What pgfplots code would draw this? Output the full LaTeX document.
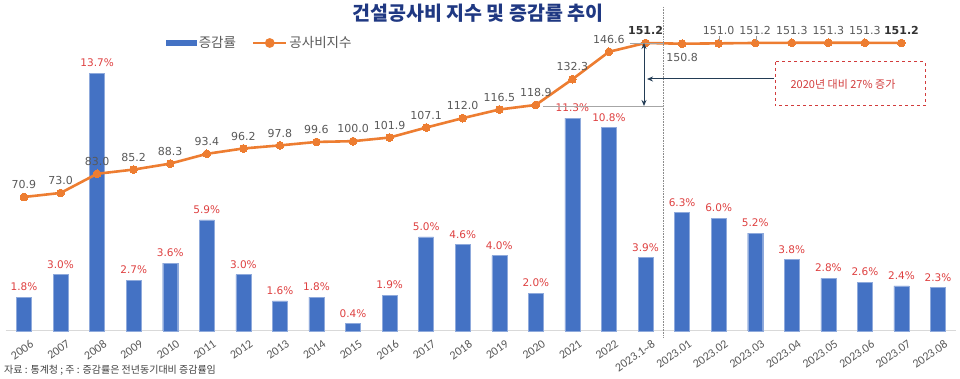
\documentclass[border=0pt]{standalone}
\usepackage{pgfplots}
\pgfplotsset{compat=1.18}
\usepackage{fontspec}
\setmainfont{Carlito}
\newfontfamily\kr{Noto Sans CJK KR}
\newfontfamily\dv{DejaVu Sans}
\newfontfamily\cb{Carlito}
\usetikzlibrary{arrows.meta}
\definecolor{barblue}{RGB}{68,114,196}
\definecolor{lineor}{RGB}{237,125,49}
\definecolor{labred}{RGB}{222,64,64}
\definecolor{labgray}{RGB}{89,89,89}
\definecolor{tickgray}{RGB}{89,89,89}
\definecolor{basegray}{RGB}{217,217,217}
\definecolor{titleblue}{RGB}{31,56,130}
\definecolor{navy}{RGB}{35,60,85}
\definecolor{boxred}{RGB}{210,60,60}
\begin{document}
\begin{tikzpicture}[x=1pt,y=1pt]
\useasboundingbox (0,0) rectangle (960,379);
\begin{axis}[
  at={(5.7pt,48pt)}, anchor=south west, scale only axis,
  width=950.6pt, height=296pt,
  xmin=-0.5, xmax=25.5, ymin=0, ymax=15.72,
  axis y line=none, axis x line=bottom,
  x axis line style={-, draw=basegray, line width=1pt},
  xtick={0,...,25},
  xticklabels={2006,2007,2008,2009,2010,2011,2012,2013,2014,2015,2016,2017,2018,2019,2020,2021,2022,{2023.1\textasciitilde8},2023.01,2023.02,2023.03,2023.04,2023.05,2023.06,2023.07,2023.08},
  major tick length=0pt,
  xticklabel style={rotate=35, anchor=north east, inner sep=0pt, xshift=0pt, yshift=-10pt, font=\cb\fontsize{12}{14}\selectfont, text=tickgray},
  ybar, bar width=15pt,
  clip=false,
  /pgf/number format/assume math mode=true,
  nodes near coords={\pgfmathprintnumber[fixed,fixed zerofill,precision=1]{\pgfplotspointmeta}\%},
  every node near coord/.append style={font=\dv\fontsize{10.5}{12}\selectfont, text=labred, anchor=south, inner sep=0pt, yshift=6pt},
]
\addplot[fill=barblue, draw=barblue!60!white, line width=0.4pt] coordinates {
(0,1.8) (1,3.0) (2,13.7) (3,2.7) (4,3.6) (5,5.9) (6,3.0) (7,1.6) (8,1.8) (9,0.4)
(10,1.9) (11,5.0) (12,4.6) (13,4.0) (14,2.0) (15,11.3) (16,10.8) (17,3.9)
(18,6.3) (19,6.0) (20,5.2) (21,3.8) (22,2.8) (23,2.6) (24,2.4) (25,2.3)};
\end{axis}
\begin{axis}[
  at={(5.7pt,48pt)}, anchor=south west, scale only axis,
  width=950.6pt, height=296pt,
  xmin=-0.5, xmax=25.5, ymin=1.04, ymax=155.36,
  hide axis, clip=false,
  /pgf/number format/assume math mode=true,
  legend style={at={(0.2675,0.973)}, anchor=center, draw=none, fill=none,
    legend columns=2, font=\kr\fontsize{13.5}{15}\selectfont, text=labgray,
    /tikz/every even column/.append style={column sep=14pt}},
]
\addlegendimage{legend image code/.code={\fill[barblue] (0pt,-2.6pt) rectangle (30pt,2.6pt);}}
\addlegendentry{증감률}
\addplot[lineor, line width=2.6pt, mark=*, mark size=3.9pt, mark options={fill=lineor, draw=lineor, line width=0pt},
  legend image code/.code={\draw[lineor, line width=2.4pt] (0pt,0pt) -- (33pt,0pt); \fill[lineor] (16.5pt,0pt) circle (3.5pt);}]
 coordinates {
(0,70.9) (1,73.0) (2,83.0) (3,85.2) (4,88.3) (5,93.4) (6,96.2) (7,97.8) (8,99.6) (9,100.0)
(10,101.9) (11,107.1) (12,112.0) (13,116.5) (14,118.9) (15,132.3) (16,146.6) (17,151.2)
(18,150.8) (19,151.0) (20,151.2) (21,151.3) (22,151.3) (23,151.3) (24,151.2)};
\addlegendentry{공사비지수}
% labels above
\addplot[draw=none, mark=none, point meta=y,
  nodes near coords={\pgfmathprintnumber[fixed,fixed zerofill,precision=1]{\pgfplotspointmeta}},
  every node near coord/.append style={font=\dv\fontsize{11}{13}\selectfont, text=labgray, anchor=south, inner sep=0pt, yshift=8pt}]
 coordinates {
(0,70.9) (1,73.0) (2,83.0) (3,85.2) (4,88.3) (5,93.4) (6,96.2) (7,97.8) (8,99.6) (9,100.0)
(10,101.9) (11,107.1) (12,112.0) (13,116.5) (14,118.9) (15,132.3) (16,146.6)
(19,151.0) (20,151.2) (21,151.3) (22,151.3) (23,151.3)};
% bold labels
\addplot[draw=none, mark=none, point meta=y,
  nodes near coords={\pgfmathprintnumber[fixed,fixed zerofill,precision=1]{\pgfplotspointmeta}},
  every node near coord/.append style={font=\dv\bfseries\fontsize{11}{13}\selectfont, text=black!80, anchor=south, inner sep=0pt, yshift=8pt}]
 coordinates {(17,151.2) (24,151.2)};
% label below
\addplot[draw=none, mark=none, point meta=y,
  nodes near coords={\pgfmathprintnumber[fixed,fixed zerofill,precision=1]{\pgfplotspointmeta}},
  every node near coord/.append style={font=\dv\fontsize{11}{13}\selectfont, text=labgray, anchor=north, inner sep=0pt, yshift=-9pt}]
 coordinates {(18,150.8)};
\end{axis}
% title
\node[font=\kr\bfseries\fontsize{19.5}{22}\selectfont, text=titleblue] at (478,366) {건설공사비 지수 및 증감률 추이};
% source
\node[font=\kr\fontsize{10}{12}\selectfont, text=black!75, anchor=west, inner sep=0pt] at (4,9) {자료 : 통계청 ; 주 : 증감률은 전년동기대비 증감률임};
% vertical dotted separator
\draw[black!45, densely dotted, line width=0.6pt] (663.5,372) -- (663.5,42);
% reference lines
\draw[black!35, line width=0.7pt] (630,336) -- (663.5,336);
\draw[black!35, line width=0.7pt] (543,273) -- (663.5,273);
% leader lines
\draw[black!40, line width=0.5pt] (719,343) -- (719,338);
\draw[black!40, line width=0.5pt] (756,343) -- (756,338);
% arrows
\draw[navy, line width=1pt, {Stealth[length=6pt,width=5pt]}-{Stealth[length=6pt,width=5pt]}] (644,336) -- (644,273);
\draw[navy, line width=1pt, -{Stealth[length=6pt,width=5pt]}] (774,300) -- (647,300);
% box
\draw[boxred, dashed, line width=1pt] (775,317) rectangle (925,273);
\node[font=\kr\fontsize{11}{13}\selectfont, text=boxred] at (843,295) {2020년 대비 27\% 증가};
\end{tikzpicture}
\end{document}
